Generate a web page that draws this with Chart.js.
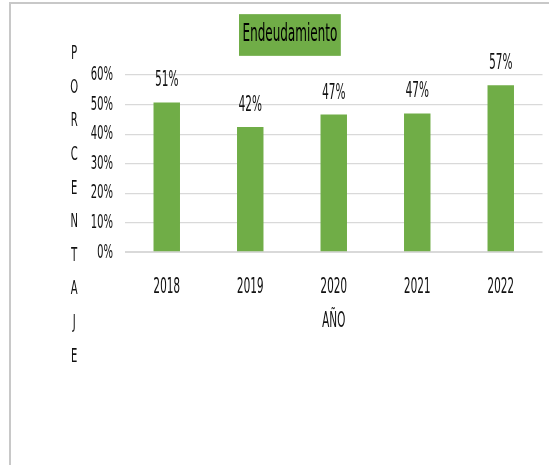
<!DOCTYPE html>
<html>
<head>
<meta charset="utf-8">
<script src="https://cdn.jsdelivr.net/npm/chart.js@4.4.1/dist/chart.umd.min.js"></script>
<style>
  html, body { margin: 0; padding: 0; background: #ffffff; overflow: hidden; width: 549px; height: 465px; }
  #frame { position: absolute; left: 9px; top: 2px; width: 700px; height: 600px; border: 2px solid #c8c8c8; box-sizing: border-box; }
  #c { position: absolute; left: 0; top: 0; width: 1098px; height: 465px; transform: scaleX(0.5); transform-origin: 0 0; }
</style>
</head>
<body>
<div id="frame"></div>
<canvas id="c" width="1098" height="465"></canvas>
<script>
// ---- data ----
const categories = ['2018', '2019', '2020', '2021', '2022'];
const endeudamiento = [50.7, 42.4, 46.6, 47.0, 56.5];
const yTickMin = 0;
const yTickMax = 60;
const yTickStep = 10;
const chartTitle = 'Endeudamiento';
const xAxisTitle = 'AÑO';
const yAxisTitle = 'PORCENTAJE';

const FONT = "'DejaVu Sans', 'Liberation Sans', sans-serif";
const TEXT = '#111111';
const GREEN = '#70AD47';

const titleBoxPlugin = {
  id: 'titleBox',
  afterDraw(chart) {
    const ctx = chart.ctx;
    const a = chart.chartArea;
    ctx.save();
    ctx.font = '24px ' + FONT;
    const tw = ctx.measureText(chartTitle).width;
    const cx = a.left + 0.395 * (a.right - a.left);
    const cy = 35;
    const bw = tw + 14, bh = 41.7;
    ctx.fillStyle = GREEN;
    ctx.fillRect(cx - bw / 2, cy - bh / 2, bw, bh);
    ctx.fillStyle = '#000000';
    ctx.textAlign = 'center';
    ctx.textBaseline = 'middle';
    ctx.fillText(chartTitle, cx, cy);
    ctx.restore();
  }
};

const yLettersPlugin = {
  id: 'yLetters',
  afterDraw(chart) {
    const ctx = chart.ctx;
    const a = chart.chartArea;
    ctx.save();
    ctx.font = '20px ' + FONT;
    ctx.fillStyle = TEXT;
    ctx.textAlign = 'center';
    ctx.textBaseline = 'middle';
    const letters = yAxisTitle.split('');
    letters.forEach((ch, i) => {
      ctx.fillText(ch, 148.4, a.top - 21 + i * 33.6);
    });
    ctx.restore();
  }
};

const dataLabelPlugin = {
  id: 'dataLabels',
  afterDatasetsDraw(chart) {
    const ctx = chart.ctx;
    const meta = chart.getDatasetMeta(0);
    ctx.save();
    ctx.font = '21px ' + FONT;
    ctx.fillStyle = TEXT;
    ctx.textAlign = 'center';
    ctx.textBaseline = 'middle';
    meta.data.forEach((bar, i) => {
      const v = chart.data.datasets[0].data[i];
      ctx.fillText(Math.round(v) + '%', bar.x, bar.y - 21.5);
    });
    ctx.restore();
  }
};

new Chart(document.getElementById('c'), {
  type: 'bar',
  data: {
    labels: categories,
    datasets: [{
      label: chartTitle,
      data: endeudamiento,
      backgroundColor: GREEN,
      borderWidth: 0,
      barPercentage: 0.317,
      categoryPercentage: 1.0
    }]
  },
  options: {
    responsive: false,
    animation: false,
    devicePixelRatio: 1,
    layout: { padding: { top: 75, right: 13, bottom: 0, left: 0 } },
    plugins: {
      legend: { display: false },
      title: { display: false },
      tooltip: { enabled: false }
    },
    scales: {
      x: {
        type: 'category',
        offset: true,
        grid: { display: false, drawTicks: false },
        border: { display: false },
        ticks: { color: TEXT, font: { family: FONT, size: 21 }, padding: 23, maxRotation: 0 },
        title: { display: true, text: xAxisTitle, color: TEXT, font: { family: FONT, size: 21 }, padding: { top: 0, bottom: 130.4 } },
        afterFit(scale) { scale.height = 212.7; }
      },
      y: {
        min: yTickMin,
        max: yTickMax,
        grid: {
          color: '#d9d9d9',
          lineWidth: (c) => (c.tick && c.tick.value === 0 ? 2 : 1.2),
          drawTicks: false
        },
        border: { display: false },
        ticks: {
          stepSize: yTickStep,
          color: TEXT,
          font: { family: FONT, size: 20 },
          padding: 24,
          callback: (v) => v + '%'
        },
        afterFit(scale) { scale.width = 250; }
      }
    }
  },
  plugins: [titleBoxPlugin, yLettersPlugin, dataLabelPlugin]
});
</script>
</body>
</html>
